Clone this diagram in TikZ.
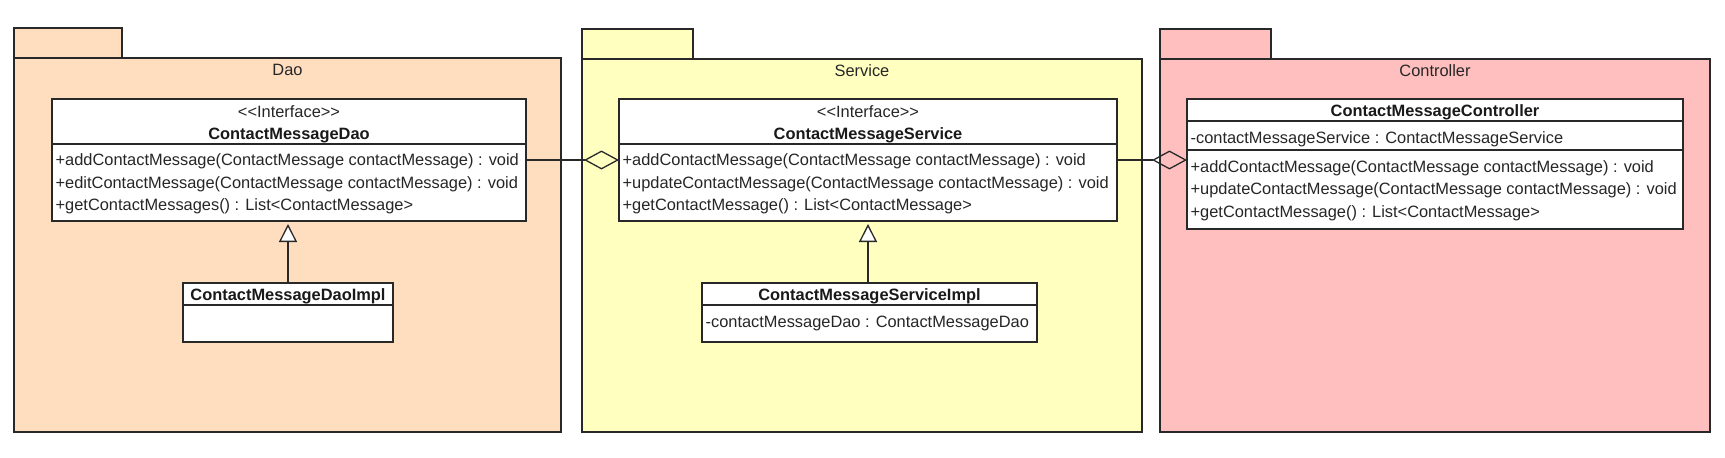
\documentclass[tikz,border=0pt]{standalone}
\usepackage{fontspec}
\setmainfont{Liberation Sans}
\usetikzlibrary{arrows.meta}
\definecolor{daobg}{RGB}{255,222,192}
\definecolor{svcbg}{RGB}{255,255,192}
\definecolor{ctlbg}{RGB}{255,191,191}
\definecolor{edgec}{RGB}{40,40,40}
\newcommand\umlfont{\fontsize{16.4}{19}\selectfont}
\begin{document}
\begin{tikzpicture}[x=1pt,y=-1pt,line width=1.3pt,
  pkgbox/.style={draw=edgec, fill=#1, inner sep=0pt, outer sep=0pt, anchor=north west},
  clsbox/.style={draw=edgec, fill=white, inner sep=0pt, outer sep=0pt, anchor=north west},
  txt/.style={font=\umlfont, anchor=base west, inner sep=0pt, text=black!85},
  ctxt/.style={font=\umlfont, anchor=base, inner sep=0pt, text=black!85},
  btxt/.style={font=\umlfont\bfseries, anchor=base, inner sep=0pt, text=black!90},
  sep/.style={draw=edgec, line width=1.3pt},
  aggr/.style={draw=edgec, -{Diamond[open, length=35pt, width=19pt]}},
  gener/.style={draw=edgec, -{Triangle[open, fill=white, length=18pt, width=18pt]}, shorten >=3pt}
]
\useasboundingbox (0,0) rectangle (1725,458);

% ---------- packages ----------
\node[pkgbox=daobg, minimum width=108pt, minimum height=30pt] (daotab) at (14,28) {};
\node[pkgbox=daobg, minimum width=547pt, minimum height=374pt] (daopkg) at (14,58) {};
\node[ctxt] (daolbl) at (287.5,75) {Dao};

\node[pkgbox=svcbg, minimum width=111pt, minimum height=30pt] (svctab) at (582,29) {};
\node[pkgbox=svcbg, minimum width=560pt, minimum height=373pt] (svcpkg) at (582,59) {};
\node[ctxt] (svclbl) at (862,76) {Service};

\node[pkgbox=ctlbg, minimum width=111pt, minimum height=30pt] (ctltab) at (1160,29) {};
\node[pkgbox=ctlbg, minimum width=550pt, minimum height=373pt] (ctlpkg) at (1160,59) {};
\node[ctxt] (ctllbl) at (1435,76) {Controller};

% ---------- ContactMessageDao ----------
\node[clsbox, minimum width=474pt, minimum height=122pt] (dao) at (52,99) {};
\draw[sep] (dao.west |- 0,144) -- (dao.east |- 0,144);
\node[ctxt] (daost) at (289,117) {<\kern0pt<Interface>\kern0pt>};
\node[btxt] (daoname) at (289,139) {ContactMessageDao};
\node[txt] (daom1) at (55,165) {+addContactMessage(ContactMessage contactMessage) : void};
\node[txt] (daom2) at (55,188) {+editContactMessage(ContactMessage contactMessage) : void};
\node[txt] (daom3) at (55,210) {+getContactMessages() : List<ContactMessage>};

% ---------- ContactMessageDaoImpl ----------
\node[clsbox, minimum width=210pt, minimum height=59pt] (daoimpl) at (183,283) {};
\draw[sep] (daoimpl.west |- 0,305) -- (daoimpl.east |- 0,305);
\node[btxt] (daoimplname) at (288,300) {ContactMessageDaoImpl};

% ---------- ContactMessageService ----------
\node[clsbox, minimum width=498pt, minimum height=122pt] (svc) at (619,99) {};
\draw[sep] (svc.west |- 0,144) -- (svc.east |- 0,144);
\node[ctxt] (svcst) at (868,117) {<\kern0pt<Interface>\kern0pt>};
\node[btxt] (svcname) at (868,139) {ContactMessageService};
\node[txt] (svcm1) at (622,165) {+addContactMessage(ContactMessage contactMessage) : void};
\node[txt] (svcm2) at (622,188) {+updateContactMessage(ContactMessage contactMessage) : void};
\node[txt] (svcm3) at (622,210) {+getContactMessage() : List<ContactMessage>};

% ---------- ContactMessageServiceImpl ----------
\node[clsbox, minimum width=335pt, minimum height=59pt] (svcimpl) at (702,283) {};
\draw[sep] (svcimpl.west |- 0,305) -- (svcimpl.east |- 0,305);
\node[btxt] (svcimplname) at (869.5,300) {ContactMessageServiceImpl};
\node[txt] (svcimpla) at (705,327) {-contactMessageDao : ContactMessageDao};

% ---------- ContactMessageController ----------
\node[clsbox, minimum width=496pt, minimum height=130pt] (ctl) at (1187,99) {};
\draw[sep] (ctl.west |- 0,121) -- (ctl.east |- 0,121);
\draw[sep] (ctl.west |- 0,150) -- (ctl.east |- 0,150);
\node[btxt] (ctlname) at (1435,116) {ContactMessageController};
\node[txt] (ctla) at (1190,143) {-contactMessageService : ContactMessageService};
\node[txt] (ctlm1) at (1190,172) {+addContactMessage(ContactMessage contactMessage) : void};
\node[txt] (ctlm2) at (1190,194) {+updateContactMessage(ContactMessage contactMessage) : void};
\node[txt] (ctlm3) at (1190,217) {+getContactMessage() : List<ContactMessage>};

% ---------- connectors ----------
\draw[aggr] (dao.east) -- (dao.east -| svc.west);
\draw[aggr] (svc.east) -- (svc.east -| ctl.west);
\draw[gener] (daoimpl.north) -- (daoimpl.north |- dao.south);
\draw[gener] (svcimpl.north -| svc.south) -- (svc.south);
\end{tikzpicture}
\end{document}
